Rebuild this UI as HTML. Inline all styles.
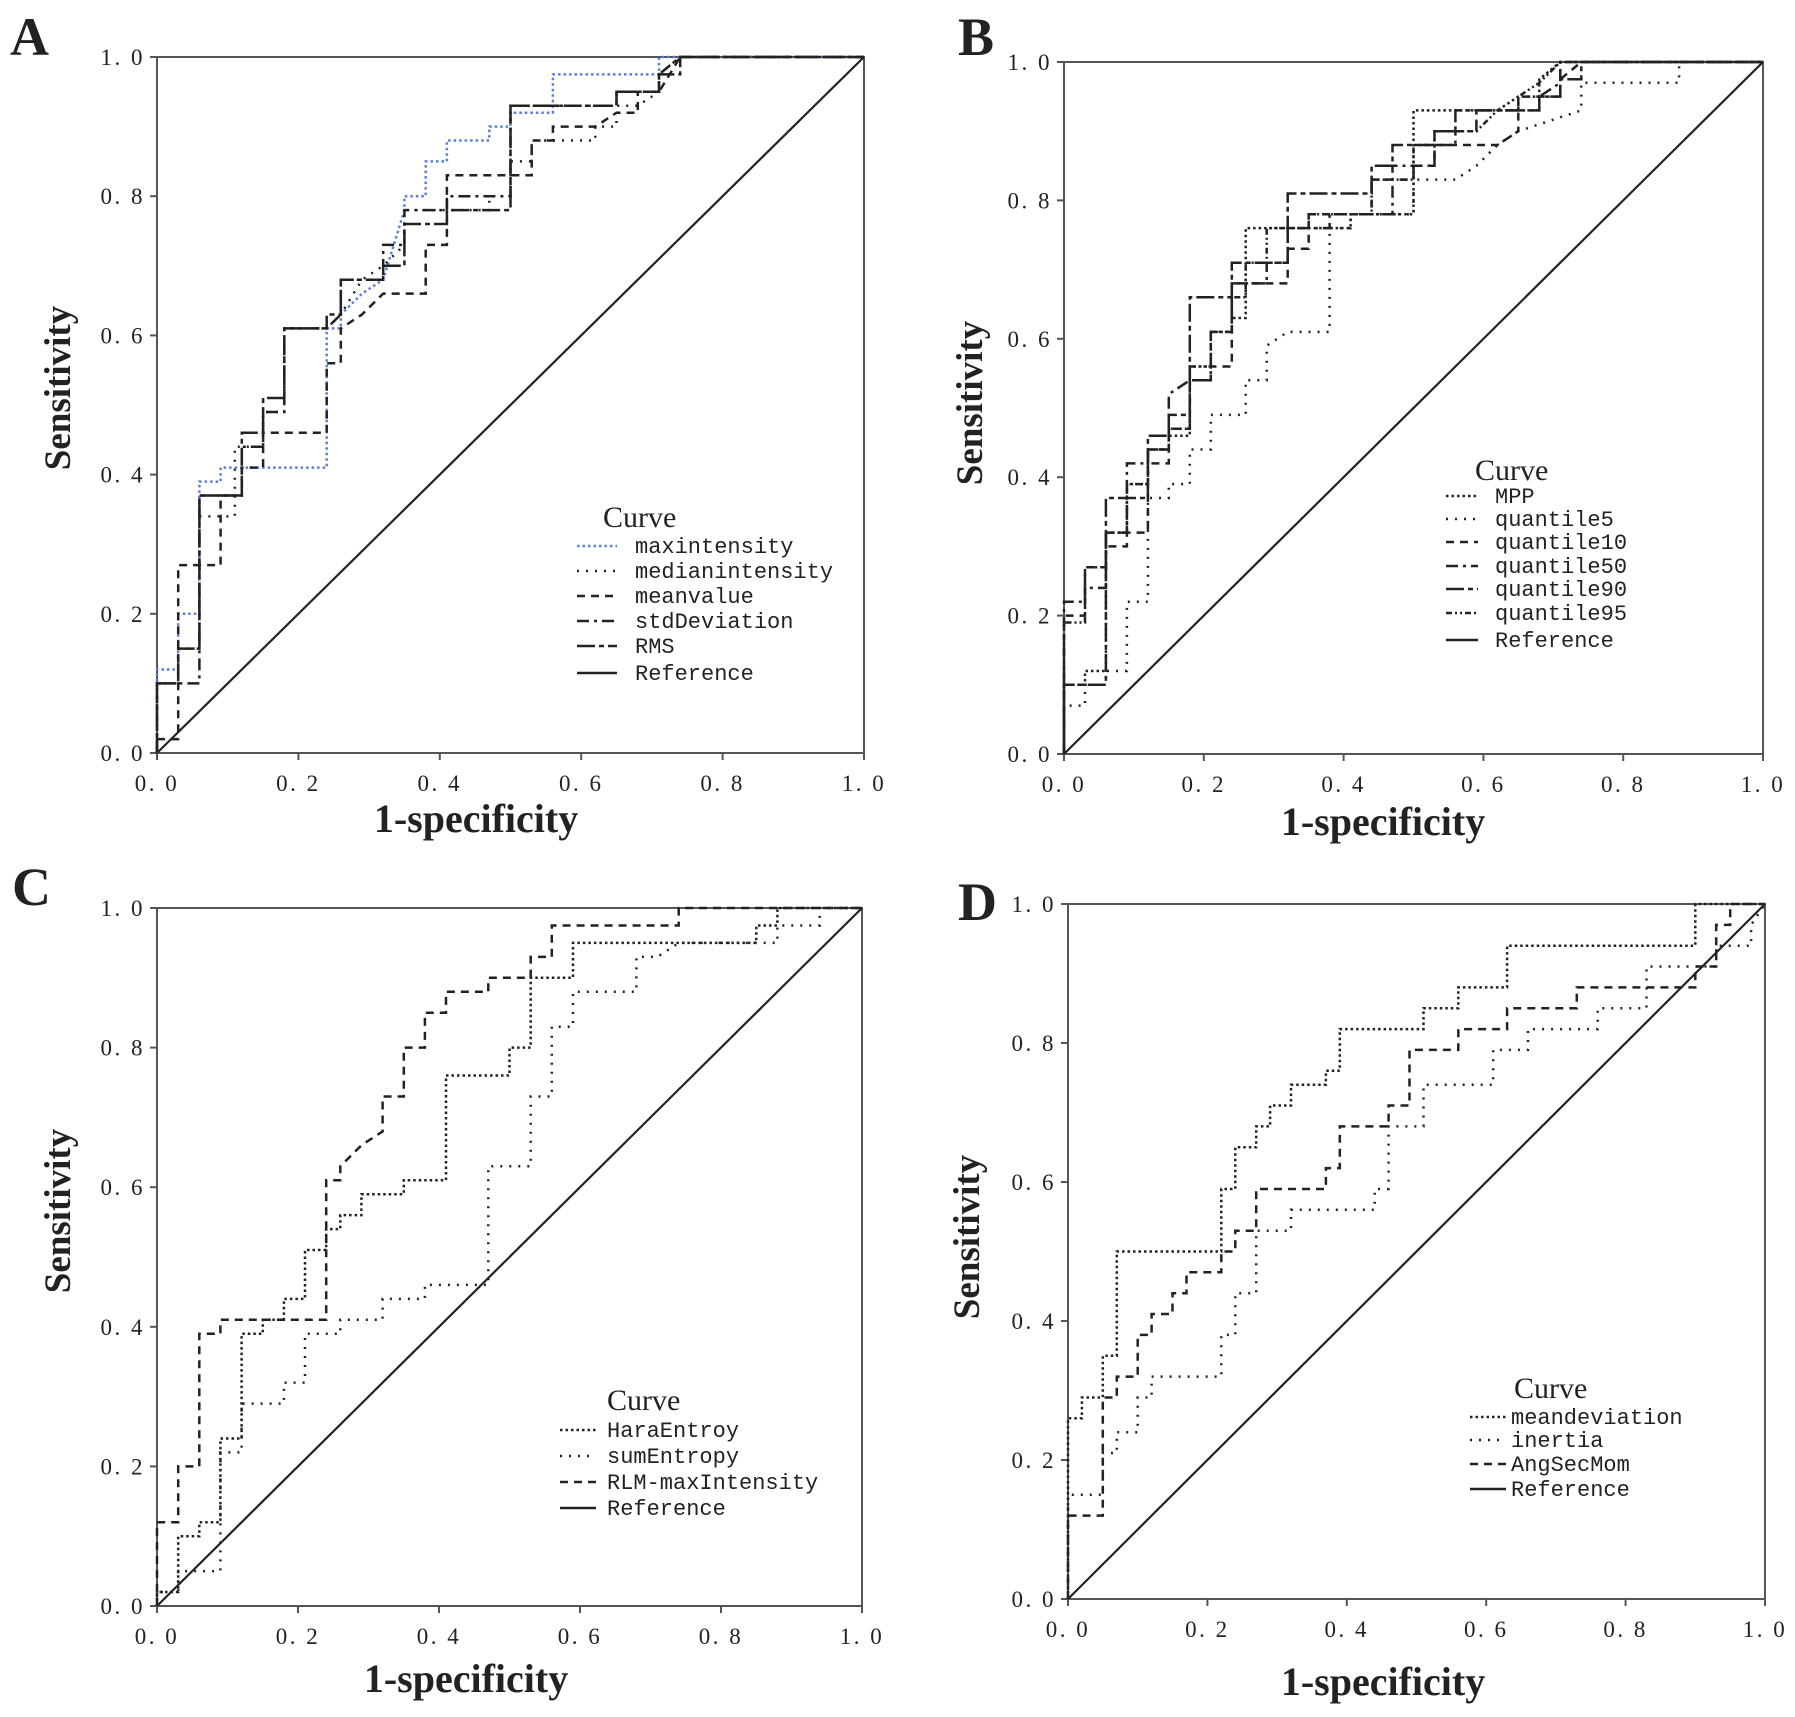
<!DOCTYPE html>
<html><head><meta charset="utf-8"><style>
html,body{margin:0;padding:0;background:#fff;}
svg{display:block;}
text{fill:#222;}
.tick{font-family:"Liberation Serif",serif;font-size:23px;letter-spacing:2.5px;}
.lab{font-family:"Liberation Serif",serif;font-weight:bold;}
.leg{font-family:"Liberation Mono",monospace;font-size:22px;}
.cur{font-family:"Liberation Serif",serif;font-size:30px;}
</style></head><body>
<svg id="fig" width="1795" height="1717" viewBox="0 0 1795 1717" xmlns="http://www.w3.org/2000/svg"></svg>
<script>
// ---- data (fpr,tpr vertices) ----
const tickValues=[0,0.2,0.4,0.6,0.8,1.0];
const tickLabels=["0. 0","0. 2","0. 4","0. 6","0. 8","1. 0"];
const A_maxintensity=[[0,0],[0,0.12],[0.03,0.12],[0.03,0.2],[0.06,0.2],[0.06,0.39],[0.09,0.39],[0.09,0.41],[0.24,0.41],[0.24,0.61],[0.26,0.61],[0.26,0.63],[0.29,0.66],[0.32,0.68],[0.35,0.78],[0.35,0.8],[0.38,0.8],[0.38,0.85],[0.41,0.85],[0.41,0.88],[0.47,0.88],[0.47,0.9],[0.5,0.9],[0.5,0.92],[0.56,0.92],[0.56,0.975],[0.71,0.975],[0.71,1],[1,1]];
const A_medianintensity=[[0,0],[0,0.1],[0.03,0.1],[0.03,0.15],[0.06,0.15],[0.06,0.34],[0.11,0.34],[0.11,0.44],[0.15,0.44],[0.15,0.49],[0.18,0.49],[0.18,0.61],[0.24,0.61],[0.26,0.63],[0.29,0.68],[0.32,0.7],[0.35,0.73],[0.35,0.78],[0.47,0.78],[0.47,0.8],[0.5,0.8],[0.5,0.85],[0.53,0.85],[0.53,0.88],[0.62,0.88],[0.62,0.9],[0.65,0.9],[0.65,0.93],[0.68,0.93],[0.71,0.95],[0.71,0.975],[0.74,1],[1,1]];
const A_meanvalue=[[0,0],[0,0.02],[0.03,0.02],[0.03,0.27],[0.09,0.27],[0.09,0.37],[0.12,0.37],[0.12,0.41],[0.15,0.41],[0.15,0.46],[0.24,0.46],[0.24,0.56],[0.26,0.56],[0.26,0.61],[0.29,0.63],[0.32,0.66],[0.38,0.66],[0.38,0.73],[0.41,0.73],[0.41,0.83],[0.53,0.83],[0.53,0.88],[0.56,0.88],[0.56,0.9],[0.62,0.9],[0.65,0.92],[0.68,0.92],[0.68,0.95],[0.71,0.95],[0.74,1],[1,1]];
const A_stdDeviation=[[0,0],[0,0.1],[0.06,0.1],[0.06,0.37],[0.12,0.37],[0.12,0.44],[0.15,0.44],[0.15,0.49],[0.18,0.49],[0.18,0.61],[0.24,0.61],[0.26,0.63],[0.26,0.68],[0.32,0.68],[0.32,0.73],[0.35,0.73],[0.35,0.78],[0.41,0.78],[0.41,0.8],[0.5,0.8],[0.5,0.93],[0.65,0.93],[0.65,0.95],[0.71,0.95],[0.71,0.975],[0.74,1],[1,1]];
const A_RMS=[[0,0],[0,0.1],[0.03,0.1],[0.03,0.15],[0.06,0.15],[0.06,0.37],[0.12,0.37],[0.12,0.46],[0.15,0.46],[0.15,0.51],[0.18,0.51],[0.18,0.61],[0.24,0.61],[0.24,0.63],[0.26,0.63],[0.26,0.68],[0.32,0.68],[0.32,0.7],[0.35,0.7],[0.35,0.76],[0.41,0.76],[0.41,0.78],[0.5,0.78],[0.5,0.93],[0.65,0.93],[0.65,0.95],[0.71,0.95],[0.71,0.975],[0.74,0.975],[0.74,1],[1,1]];
const B_MPP=[[0,0],[0,0.1],[0.03,0.1],[0.03,0.12],[0.06,0.12],[0.06,0.32],[0.09,0.32],[0.09,0.39],[0.12,0.39],[0.12,0.44],[0.15,0.44],[0.15,0.46],[0.18,0.46],[0.18,0.56],[0.21,0.56],[0.21,0.61],[0.24,0.61],[0.24,0.63],[0.26,0.63],[0.26,0.76],[0.41,0.76],[0.41,0.78],[0.5,0.78],[0.5,0.93],[0.62,0.93],[0.65,0.95],[0.68,0.95],[0.68,0.975],[0.71,1],[1,1]];
const B_quantile5=[[0,0],[0,0.07],[0.03,0.07],[0.03,0.1],[0.06,0.1],[0.06,0.12],[0.09,0.12],[0.09,0.22],[0.12,0.22],[0.12,0.37],[0.15,0.37],[0.15,0.39],[0.18,0.39],[0.18,0.44],[0.21,0.44],[0.21,0.49],[0.26,0.49],[0.26,0.54],[0.29,0.54],[0.29,0.59],[0.32,0.61],[0.38,0.61],[0.38,0.76],[0.41,0.76],[0.41,0.78],[0.5,0.78],[0.5,0.83],[0.56,0.83],[0.59,0.85],[0.62,0.88],[0.65,0.9],[0.74,0.93],[0.74,0.97],[0.88,0.97],[0.88,1],[1,1]];
const B_quantile10=[[0,0],[0,0.2],[0.03,0.2],[0.03,0.27],[0.06,0.27],[0.06,0.3],[0.09,0.3],[0.09,0.32],[0.12,0.32],[0.12,0.42],[0.15,0.42],[0.15,0.47],[0.18,0.47],[0.18,0.54],[0.21,0.54],[0.21,0.56],[0.24,0.56],[0.24,0.68],[0.32,0.68],[0.32,0.73],[0.35,0.73],[0.35,0.78],[0.44,0.78],[0.44,0.83],[0.5,0.83],[0.5,0.85],[0.53,0.85],[0.53,0.88],[0.62,0.88],[0.65,0.9],[0.65,0.95],[0.71,0.95],[0.71,0.975],[0.74,1],[1,1]];
const B_quantile50=[[0,0],[0,0.22],[0.03,0.22],[0.03,0.24],[0.06,0.24],[0.06,0.32],[0.09,0.32],[0.09,0.42],[0.12,0.42],[0.12,0.44],[0.15,0.44],[0.15,0.52],[0.18,0.54],[0.21,0.54],[0.21,0.61],[0.24,0.61],[0.24,0.68],[0.29,0.68],[0.29,0.71],[0.32,0.71],[0.32,0.76],[0.38,0.76],[0.38,0.78],[0.47,0.78],[0.47,0.85],[0.53,0.85],[0.53,0.88],[0.56,0.88],[0.56,0.9],[0.59,0.9],[0.59,0.93],[0.68,0.93],[0.68,0.95],[0.71,0.97],[0.71,1],[1,1]];
const B_quantile90=[[0,0],[0,0.1],[0.06,0.1],[0.06,0.37],[0.12,0.37],[0.12,0.46],[0.15,0.46],[0.15,0.49],[0.18,0.49],[0.18,0.66],[0.24,0.66],[0.24,0.71],[0.32,0.71],[0.32,0.81],[0.44,0.81],[0.44,0.85],[0.47,0.85],[0.47,0.88],[0.53,0.88],[0.53,0.9],[0.56,0.9],[0.56,0.93],[0.68,0.93],[0.68,0.95],[0.71,0.95],[0.71,0.975],[0.74,0.975],[0.74,1],[1,1]];
const B_quantile95=[[0,0],[0,0.19],[0.03,0.19],[0.03,0.27],[0.06,0.27],[0.06,0.32],[0.09,0.32],[0.09,0.39],[0.12,0.39],[0.12,0.44],[0.15,0.44],[0.15,0.47],[0.18,0.47],[0.18,0.56],[0.21,0.56],[0.21,0.61],[0.24,0.61],[0.24,0.66],[0.26,0.66],[0.26,0.71],[0.29,0.71],[0.29,0.76],[0.35,0.76],[0.35,0.78],[0.44,0.78],[0.44,0.83],[0.5,0.83],[0.5,0.88],[0.53,0.88],[0.53,0.9],[0.59,0.9],[0.62,0.93],[0.65,0.93],[0.65,0.95],[0.68,0.97],[0.71,1],[1,1]];
const C_HaraEntroy=[[0,0],[0,0.02],[0.03,0.02],[0.03,0.1],[0.06,0.1],[0.06,0.12],[0.09,0.12],[0.09,0.24],[0.12,0.24],[0.12,0.39],[0.15,0.39],[0.15,0.41],[0.18,0.41],[0.18,0.44],[0.21,0.44],[0.21,0.51],[0.24,0.51],[0.24,0.54],[0.26,0.54],[0.26,0.56],[0.29,0.56],[0.29,0.59],[0.35,0.59],[0.35,0.61],[0.41,0.61],[0.41,0.76],[0.5,0.76],[0.5,0.8],[0.53,0.8],[0.53,0.9],[0.59,0.9],[0.59,0.95],[0.85,0.95],[0.85,0.975],[0.88,0.975],[0.88,1],[1,1]];
const C_sumEntropy=[[0,0],[0,0.02],[0.03,0.02],[0.03,0.05],[0.09,0.05],[0.09,0.22],[0.12,0.22],[0.12,0.29],[0.18,0.29],[0.18,0.32],[0.21,0.32],[0.21,0.39],[0.26,0.39],[0.26,0.41],[0.32,0.41],[0.32,0.44],[0.38,0.44],[0.38,0.46],[0.47,0.46],[0.47,0.63],[0.53,0.63],[0.53,0.73],[0.56,0.73],[0.56,0.83],[0.59,0.83],[0.59,0.88],[0.68,0.88],[0.68,0.93],[0.71,0.93],[0.74,0.95],[0.88,0.95],[0.88,0.975],[0.94,0.975],[0.94,1],[1,1]];
const C_RLMmaxIntensity=[[0,0],[0,0.12],[0.03,0.12],[0.03,0.2],[0.06,0.2],[0.06,0.39],[0.09,0.39],[0.09,0.41],[0.24,0.41],[0.24,0.61],[0.26,0.61],[0.26,0.63],[0.29,0.66],[0.32,0.68],[0.32,0.73],[0.35,0.73],[0.35,0.8],[0.38,0.8],[0.38,0.85],[0.41,0.85],[0.41,0.88],[0.47,0.88],[0.47,0.9],[0.53,0.9],[0.53,0.93],[0.56,0.93],[0.56,0.975],[0.74,0.975],[0.74,1],[1,1]];
const D_meandeviation=[[0,0],[0,0.26],[0.02,0.26],[0.02,0.29],[0.05,0.29],[0.05,0.35],[0.07,0.35],[0.07,0.5],[0.22,0.5],[0.22,0.59],[0.24,0.59],[0.24,0.65],[0.27,0.65],[0.27,0.68],[0.29,0.68],[0.29,0.71],[0.32,0.71],[0.32,0.74],[0.37,0.74],[0.37,0.76],[0.39,0.76],[0.39,0.82],[0.51,0.82],[0.51,0.85],[0.56,0.85],[0.56,0.88],[0.63,0.88],[0.63,0.94],[0.9,0.94],[0.9,1],[1,1]];
const D_inertia=[[0,0],[0,0.15],[0.05,0.15],[0.05,0.21],[0.07,0.21],[0.07,0.24],[0.1,0.24],[0.1,0.29],[0.12,0.29],[0.12,0.32],[0.22,0.32],[0.22,0.38],[0.24,0.38],[0.24,0.44],[0.27,0.44],[0.27,0.53],[0.32,0.53],[0.32,0.56],[0.44,0.56],[0.44,0.59],[0.46,0.59],[0.46,0.68],[0.51,0.68],[0.51,0.74],[0.61,0.74],[0.61,0.79],[0.66,0.79],[0.66,0.82],[0.76,0.82],[0.76,0.85],[0.83,0.85],[0.83,0.91],[0.93,0.91],[0.93,0.94],[0.98,0.94],[0.98,0.97],[1,1]];
const D_AngSecMom=[[0,0],[0,0.12],[0.05,0.12],[0.05,0.29],[0.07,0.29],[0.07,0.32],[0.1,0.32],[0.1,0.38],[0.12,0.38],[0.12,0.41],[0.15,0.41],[0.15,0.44],[0.17,0.44],[0.17,0.47],[0.22,0.47],[0.22,0.5],[0.24,0.5],[0.24,0.53],[0.27,0.53],[0.27,0.59],[0.37,0.59],[0.37,0.62],[0.39,0.62],[0.39,0.68],[0.46,0.68],[0.46,0.71],[0.49,0.71],[0.49,0.79],[0.56,0.79],[0.56,0.82],[0.63,0.82],[0.63,0.85],[0.73,0.85],[0.73,0.88],[0.9,0.88],[0.9,0.91],[0.93,0.91],[0.93,0.97],[0.95,0.97],[0.95,1],[1,1]];
const referenceLine=[[0,0],[1,1]];

const NS="http://www.w3.org/2000/svg";
const svg=document.getElementById('fig');
function mk(tag,attrs,parent,txt){const e=document.createElementNS(NS,tag);for(const k in attrs)e.setAttribute(k,attrs[k]);if(txt!==undefined)e.textContent=txt;(parent||svg).appendChild(e);return e;}

const panels=[
 {id:'a',letter:'A',lx:10,ly:55,x0:157,x1:864,y0:57,y1:753,xl:[476,832],yl:[58,388],
  curve:[603,527],legLine:[577,617],legText:635,rows:[553,578,603,628,653,680],
  series:[[A_maxintensity,'maxintensity','2.5,3','#5b7fd6'],[A_medianintensity,'medianintensity','2,7','#222'],[A_meanvalue,'meanvalue','8,6','#222'],[A_stdDeviation,'stdDeviation','12,5,3,5','#222'],[A_RMS,'RMS','18,4,5,4','#222']]},
 {id:'b',letter:'B',lx:958,ly:55,x0:1064,x1:1763,y0:62,y1:754,xl:[1383,835],yl:[970,403],
  curve:[1475,480],legLine:[1446,1478],legText:1495,rows:[503,526,549,573,596,620,647],
  series:[[B_MPP,'MPP','2.5,3','#222'],[B_quantile5,'quantile5','2,7','#222'],[B_quantile10,'quantile10','8,6','#222'],[B_quantile50,'quantile50','12,5,3,5','#222'],[B_quantile90,'quantile90','18,4,5,4','#222'],[B_quantile95,'quantile95','6,3,2,3,2,3','#222']]},
 {id:'c',letter:'C',lx:12,ly:905,x0:157,x1:862,y0:908,y1:1606,xl:[466,1692],yl:[58,1211],
  curve:[607,1410],legLine:[560,596],legText:607,rows:[1437,1463,1489,1515],
  series:[[C_HaraEntroy,'HaraEntroy','2.5,3','#222'],[C_sumEntropy,'sumEntropy','2,7','#222'],[C_RLMmaxIntensity,'RLM-maxIntensity','8,6','#222']]},
 {id:'d',letter:'D',lx:958,ly:920,x0:1068,x1:1765,y0:904,y1:1599,xl:[1383,1695],yl:[967,1237],
  curve:[1514,1398],legLine:[1470,1506],legText:1511,rows:[1424,1447,1471,1496],
  series:[[D_meandeviation,'meandeviation','2.5,3','#222'],[D_inertia,'inertia','2,7','#222'],[D_AngSecMom,'AngSecMom','8,6','#222']]}
];

panels.forEach(p=>{
  const g=mk('g',{});
  
  
  const sx=v=>p.x0+v*(p.x1-p.x0), sy=v=>p.y1-v*(p.y1-p.y0);
  const L=mk('text',{x:p.lx,y:p.ly,'font-family':'Liberation Serif, serif','font-size':54,'font-weight':'bold'},g,p.letter);
  
  
  const fr=mk('rect',{x:p.x0,y:p.y0,width:p.x1-p.x0,height:p.y1-p.y0,fill:'none',stroke:'#555','stroke-width':2},g);
  
  
  tickValues.forEach((v,i)=>{
    mk('line',{x1:sx(v),x2:sx(v),y1:p.y1,y2:p.y1+7,stroke:'#555','stroke-width':2},g);
    mk('line',{x1:p.x0-7,x2:p.x0,y1:sy(v),y2:sy(v),stroke:'#555','stroke-width':2},g);
    const tx=mk('text',{x:sx(v),y:p.y1+38,'text-anchor':'middle',class:'tick'},g,tickLabels[i]);
    
    
    const ty=mk('text',{x:p.x0-12,y:sy(v)+8,'text-anchor':'end',class:'tick'},g,tickLabels[i]);
    
    
  });
  const xt=mk('text',{x:p.xl[0],y:p.xl[1],'text-anchor':'middle',class:'lab','font-size':40},g,'1-specificity');
  
  
  const yt=mk('text',{x:0,y:0,'text-anchor':'middle',class:'lab','font-size':37,transform:`translate(${p.yl[0]+12},${p.yl[1]}) rotate(-90)`},g,'Sensitivity');
  
  
  const rl=mk('polyline',{points:referenceLine.map(d=>sx(d[0])+','+sy(d[1])).join(' '),fill:'none',stroke:'#222','stroke-width':2.2},g);
  
  
  p.series.forEach(s=>{
    const pl=mk('polyline',{points:s[0].map(d=>sx(d[0]).toFixed(1)+','+sy(d[1]).toFixed(1)).join(' '),fill:'none',stroke:s[3],'stroke-width':2.5,'stroke-dasharray':s[2]},g);
    
    
  });
  const lg=mk('g',{},g);
  
  
  mk('text',{x:p.curve[0],y:p.curve[1],class:'cur'},lg,'Curve');
  const items=p.series.map(s=>[s[1],s[2],s[3]]).concat([['Reference',null,'#222']]);
  items.forEach((it,i)=>{
    const y=p.rows[i];
    const ln=mk('line',{x1:p.legLine[0],x2:p.legLine[1],y1:y-7,y2:y-7,stroke:it[2],'stroke-width':2.5},lg);
    if(it[1])ln.setAttribute('stroke-dasharray',it[1]);
    const t=mk('text',{x:p.legText,y:y,class:'leg'},lg,it[0]);
    
    
  });
});
</script>
</body></html>
